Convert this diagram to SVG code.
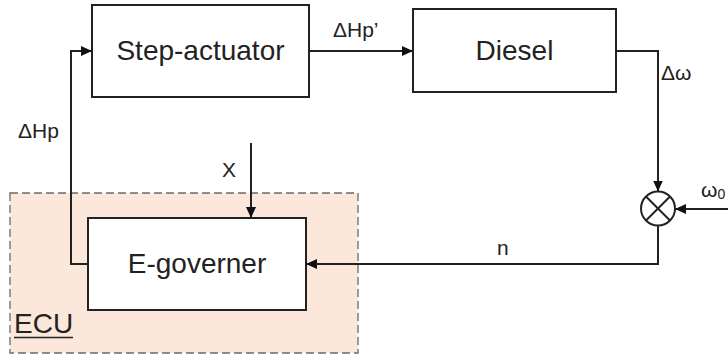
<svg xmlns="http://www.w3.org/2000/svg" width="728" height="360" viewBox="0 0 728 360">
<defs>
<style>
.blk{fill:#ffffff;stroke:#222;stroke-width:2}
.lbl{font-family:"Liberation Sans",Arial,sans-serif;fill:#222}
.main{font-size:28px;text-anchor:middle}
.sig{font-size:21px}
.wire{fill:none;stroke:#222;stroke-width:2}
</style>
<marker id="ah" markerUnits="userSpaceOnUse" markerWidth="12" markerHeight="12" viewBox="0 0 12 12" refX="11" refY="6" orient="auto">
<path d="M0,1 L11,6 L0,11 Z" fill="#111"/>
</marker>
</defs>
<rect width="728" height="360" fill="#ffffff"/>
<g id="ecu">
<rect x="10" y="193" width="348" height="160" fill="#fbe8da" stroke="#6a6a6a" stroke-width="1.3" stroke-dasharray="8,4"/>
<text class="lbl" x="14" y="333" font-size="28">ECU</text>
<line x1="14" y1="337.5" x2="73" y2="337.5" stroke="#222" stroke-width="1.6"/>
</g>
<g id="step-actuator">
<rect class="blk" x="92" y="5" width="217" height="92"/>
<text class="lbl main" x="200.5" y="60">Step-actuator</text>
</g>
<g id="diesel">
<rect class="blk" x="413" y="9" width="203" height="83"/>
<text class="lbl main" x="514.5" y="60">Diesel</text>
</g>
<g id="e-governer">
<rect class="blk" x="88" y="218" width="218" height="92"/>
<text class="lbl main" x="197" y="273">E-governer</text>
</g>
<g id="sum">
<circle cx="658" cy="208.5" r="17" fill="#ffffff" stroke="#222" stroke-width="2"/>
<line x1="646" y1="196.5" x2="670" y2="220.5" stroke="#222" stroke-width="2"/>
<line x1="670" y1="196.5" x2="646" y2="220.5" stroke="#222" stroke-width="2"/>
</g>
<g id="connectors">
<polyline class="wire" points="88,264 71,264 71,51 92,51" marker-end="url(#ah)"/>
<line class="wire" x1="309" y1="51" x2="413" y2="51" marker-end="url(#ah)"/>
<polyline class="wire" points="616,51 658,51 658,191.5" marker-end="url(#ah)"/>
<line class="wire" x1="728" y1="209" x2="675" y2="209" marker-end="url(#ah)"/>
<polyline class="wire" points="658,225.5 658,264 306,264" marker-end="url(#ah)"/>
<line class="wire" x1="251" y1="143" x2="251" y2="218" marker-end="url(#ah)"/>
<text class="lbl sig" x="333" y="37">ΔHp’</text>
<text class="lbl sig" x="661" y="80">Δω</text>
<text class="lbl sig" x="18" y="138">ΔHp</text>
<text class="lbl sig" x="222" y="177">X</text>
<text class="lbl sig" x="497" y="255">n</text>
<text class="lbl sig" x="701" y="197">ω<tspan font-size="14" dy="2">0</tspan></text>
</g>
</svg>
